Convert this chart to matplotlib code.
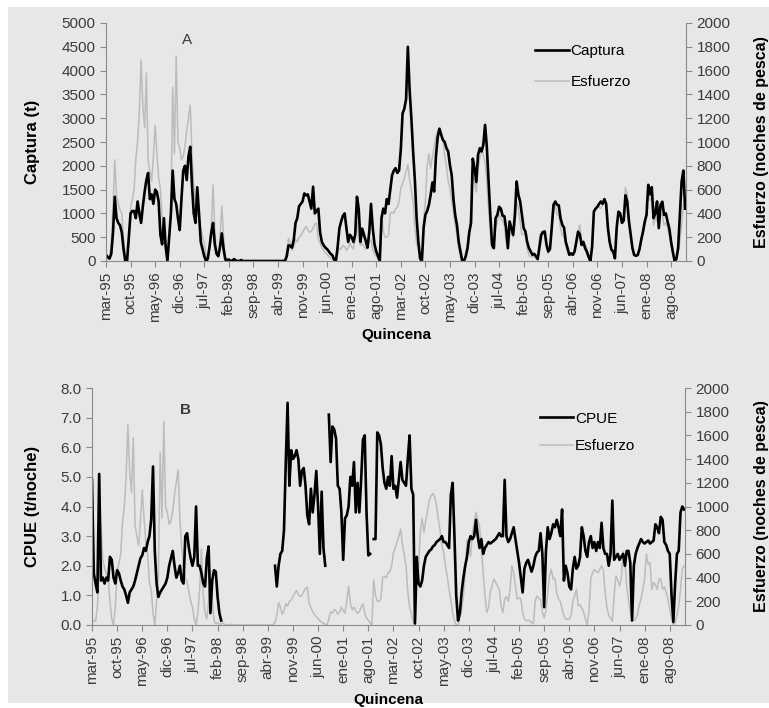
import numpy as np
import matplotlib.pyplot as plt
from matplotlib.patches import Rectangle

plt.rcParams['font.family'] = ['Liberation Sans', 'DejaVu Sans']

# etiquetas del eje x (una cada 14 quincenas)
meses = ['mar-95', 'oct-95', 'may-96', 'dic-96', 'jul-97', 'feb-98', 'sep-98',
         'abr-99', 'nov-99', 'jun-00', 'ene-01', 'ago-01', 'mar-02', 'oct-02',
         'may-03', 'dic-03', 'jul-04', 'feb-05', 'sep-05', 'abr-06', 'nov-06',
         'jun-07', 'ene-08', 'ago-08']

# Captura (t) por quincena
captura = [
    130, 80, 50, 150, 600, 1350, 900, 800, 750, 600, 250, 0, 0, 500,
    1000, 1050, 1050, 900, 1250, 1000, 800, 1150, 1450, 1700, 1850, 1300, 1400, 1200,
    1500, 1450, 1250, 550, 350, 900, 300, 0, 500, 1000, 1900, 1300, 1200, 900,
    650, 1300, 1900, 2000, 1700, 2200, 2400, 1600, 1000, 800, 1550, 1000, 400, 250,
    100, 0, 50, 300, 600, 800, 350, 150, 100, 300, 580, 250, 30, 20,
    30, 0, 10, 40, 10, 0, 0, 20, 0, 0, 0, 0, 0, 0,
    0, 0, 0, 0, 0, 0, 0, 0, 0, 0, 0, 0, 0, 0,
    0, 0, 0, 0, 0, 100, 330, 320, 280, 450, 800, 900, 1150, 1200,
    1250, 1420, 1380, 1400, 1250, 1100, 1560, 1000, 1050, 1100, 600, 400, 330, 280,
    250, 200, 150, 120, 30, 0, 300, 690, 830, 950, 1000, 690, 400, 550,
    500, 400, 550, 1350, 1100, 400, 680, 550, 420, 280, 600, 1200, 690, 350,
    200, 100, 0, 900, 1100, 1000, 1300, 1200, 1500, 1800, 1900, 1950, 1850, 1900,
    2350, 3100, 3200, 3400, 4500, 3600, 3000, 2300, 1700, 900, 400, 50, 0, 700,
    970, 1050, 1180, 1390, 1650, 1460, 2200, 2600, 2780, 2650, 2540, 2500, 2370, 2300,
    2010, 1800, 1300, 960, 750, 400, 200, 0, 0, 100, 270, 600, 800, 2150,
    1950, 1660, 2230, 2370, 2300, 2440, 2860, 2400, 1660, 960, 340, 270, 900, 970,
    1140, 1100, 950, 940, 690, 270, 830, 690, 550, 970, 1670, 1390, 1250, 970,
    690, 620, 400, 270, 200, 130, 150, 100, 40, 300, 546, 610, 620, 350,
    200, 250, 700, 1180, 1250, 1180, 1170, 900, 760, 700, 400, 270, 130, 160,
    130, 200, 400, 616, 560, 336, 400, 270, 196, 86, 0, 300, 1040, 1100,
    1140, 1200, 1250, 1200, 1300, 1200, 700, 400, 240, 200, 56, 700, 1036, 1000,
    800, 850, 1380, 1250, 826, 546, 266, 126, 110, 126, 250, 450, 616, 826,
    966, 1600, 1400, 1550, 900, 1000, 1250, 690, 1180, 1246, 966, 1000, 830, 680,
    406, 190, 0, 40, 266, 966, 1666, 1900, 1100,
]

# Esfuerzo (noches de pesca) por quincena
esfuerzo = [
    30, 40, 30, 150, 450, 850, 550, 480, 430, 400, 200, 50, 0, 150,
    450, 520, 600, 860, 1000, 1250, 1690, 1300, 1120, 1580, 840, 750, 670, 880,
    1140, 900, 700, 600, 360, 300, 100, 0, 200, 400, 1460, 900, 1720, 1000,
    950, 850, 880, 960, 1100, 1200, 1310, 890, 650, 500, 400, 360, 280, 200,
    150, 50, 0, 100, 300, 640, 250, 100, 50, 200, 460, 200, 40, 10,
    20, 5, 10, 15, 5, 0, 0, 5, 0, 0, 0, 0, 0, 0,
    0, 0, 0, 0, 0, 0, 0, 0, 0, 0, 0, 0, 0, 0,
    0, 0, 0, 5, 20, 80, 190, 150, 90, 120, 180, 160, 200, 210,
    240, 270, 290, 260, 240, 250, 280, 310, 320, 180, 150, 110, 90, 70,
    55, 35, 25, 15, 5, 0, 50, 110, 100, 130, 120, 90, 110, 150,
    120, 100, 200, 330, 180, 130, 150, 120, 100, 110, 150, 180, 100, 60,
    40, 20, 0, 380, 250, 200, 200, 220, 400, 410, 400, 440, 450, 500,
    610, 650, 700, 750, 810, 680, 600, 500, 280, 150, 100, 25, 0, 340,
    500, 800, 900, 780, 880, 960, 1050, 1090, 1110, 1080, 1010, 890, 800, 670,
    610, 500, 410, 300, 210, 100, 35, 0, 0, 60, 130, 240, 450, 720,
    670, 580, 780, 860, 950, 890, 830, 660, 440, 250, 106, 150, 280, 330,
    390, 360, 330, 300, 160, 106, 218, 240, 200, 300, 500, 440, 330, 220,
    230, 220, 106, 50, 36, 40, 36, 20, 10, 200, 246, 225, 218, 110,
    60, 120, 274, 414, 470, 390, 390, 274, 218, 200, 134, 80, 50, 50,
    50, 80, 200, 246, 302, 162, 170, 140, 110, 50, 0, 120, 390, 442,
    470, 450, 440, 470, 500, 460, 270, 150, 80, 60, 30, 250, 414, 380,
    330, 390, 620, 560, 330, 218, 106, 50, 40, 50, 90, 170, 218, 302,
    386, 600, 510, 526, 300, 360, 340, 300, 390, 386, 302, 320, 280, 218,
    130, 60, 0, 20, 78, 162, 300, 470, 500,
]

# CPUE (t/noche); None = sin esfuerzo
cpue = [
    4.9, 1.75, 1.4, 1.1, 5.1, 1.5, 1.6, 1.4, 1.6, 1.5, 2.3, 2.2, 1.6, 1.4,
    1.85, 1.75, 1.5, 1.3, 1.2, 1.0, 0.75, 1.1, 1.2, 1.3, 1.5, 1.75, 2.0, 2.25,
    2.35, 2.6, 2.5, 2.8, 3.0, 3.55, 5.35, 2.5, 1.4, 0.95, 1.1, 1.2, 1.3, 1.4,
    1.6, 2.0, 2.25, 2.5, 2.0, 1.6, 1.75, 2.0, 1.5, 1.4, 3.0, 3.1, 2.6, 2.25,
    2.0, 2.3, 4.0, 2.0, 2.0, 1.75, 1.4, 1.3, 2.25, 2.65, 0.4, 1.5, 1.85, 1.8,
    0.95, 0.4, 0.15, None, None, None, None, None, None, None, None, None, None, None,
    None, None, None, None, None, None, None, None, None, None, None, None, None, None,
    None, None, None, None, 2.0, 1.3, 2.0, 2.4, 2.5, 3.2, 5.5, 7.5, 4.7, 5.9,
    5.6, 5.7, 5.9, 5.6, 4.7, 5.2, 5.3, 4.7, 3.7, 3.4, 4.6, 3.8, 4.4, 5.2,
    4.0, 2.4, 4.5, 2.6, 2.0, None, 7.1, 5.5, 6.7, 6.6, 6.3, 4.7, 4.6, 3.8,
    2.2, 3.6, 3.7, 4.0, 5.0, 4.7, 5.5, 3.8, 4.8, 3.8, 4.9, 6.25, 6.4, 3.8,
    2.35, 2.4, None, 2.9, 2.9, 6.5, 6.4, 6.1, 5.3, 4.8, 4.6, 5.0, 4.7, 5.7,
    4.6, 4.7, 4.3, 4.9, 5.5, 4.9, 4.8, 4.7, 5.6, 6.4, 4.6, 4.4, 0.05, 2.3,
    1.4, 1.3, 1.5, 2.0, 2.3, 2.4, 2.5, 2.55, 2.65, 2.7, 2.8, 2.85, 2.9, 3.0,
    2.8, 2.8, 2.7, 2.6, 4.4, 4.8, 3.0, 1.0, 0.15, 0.4, 1.1, 1.6, 2.0, 2.3,
    2.8, 3.0, 2.9, 3.0, 3.55, 3.0, 2.6, 2.9, 2.4, 2.6, 2.7, 2.8, 2.75, 2.8,
    2.85, 2.9, 3.0, 3.1, 3.0, 3.0, 4.9, 3.0, 2.8, 2.9, 3.1, 3.3, 2.9, 2.5,
    2.1, 1.6, 1.1, 1.9, 2.1, 2.2, 2.0, 1.8, 2.0, 2.3, 2.45, 2.5, 3.1, 2.4,
    0.6, 2.5, 3.3, 2.9, 3.1, 3.4, 3.3, 3.55, 3.3, 3.0, 3.9, 1.5, 2.0, 1.75,
    1.3, 1.2, 1.9, 2.3, 1.9, 2.0, 2.3, 3.3, 3.0, 2.5, 2.3, 2.8, 3.0, 2.6,
    2.8, 2.5, 2.8, 2.6, 3.45, 2.6, 2.4, 2.4, 2.0, 2.4, 4.2, 2.2, 2.3, 2.4,
    2.2, 2.3, 2.4, 2.0, 2.5, 2.5, 2.1, 0.15, 2.0, 2.4, 2.6, 2.75, 2.9, 2.8,
    2.75, 2.8, 2.85, 2.75, 2.8, 2.85, 3.4, 3.3, 3.1, 3.65, 3.55, 2.8, 2.7, 2.5,
    2.4, 1.0, 0.1, 1.4, 2.4, 2.5, 3.8, 4.0, 3.9,
]

captura = np.array(captura, dtype=float)
esfuerzo = np.array(esfuerzo, dtype=float)
cpue = np.array(cpue, dtype=float)
x = np.arange(len(captura))
ticks_x = np.arange(0, len(captura), 14)

GRIS_EJE = '#8a8a8a'
GRIS_TXT = '#3c3c3c'
GRIS_LINEA = '#bcbcbc'

fig = plt.figure(figsize=(7.69, 7.08), dpi=100, facecolor='white')
fig.add_artist(Rectangle((8 / 769, 5 / 708), 1, 1 - 12 / 708, transform=fig.transFigure,
                         facecolor='#e7e7e7', edgecolor='none', zorder=-10))


def estilo(ax, ax2):
    for s in ['top', 'right']:
        ax.spines[s].set_visible(False)
    for s in ['top', 'left', 'bottom']:
        ax2.spines[s].set_visible(False)
    ax.spines['left'].set_color(GRIS_EJE)
    ax.spines['bottom'].set_color(GRIS_EJE)
    ax2.spines['right'].set_color(GRIS_EJE)
    ax.tick_params(axis='both', direction='out', length=4, color=GRIS_EJE,
                   labelcolor=GRIS_TXT, labelsize=11)
    ax2.tick_params(axis='y', direction='out', length=4, color=GRIS_EJE,
                    labelcolor=GRIS_TXT, labelsize=11)
    ax.set_xlim(0, 330.5)
    ax.set_xticks(ticks_x)
    ax.set_xticklabels(meses, rotation=90)
    ax.set_zorder(ax2.get_zorder() + 1)
    ax.patch.set_visible(False)
    ax2.patch.set_visible(False)


# Panel A
axA = fig.add_axes([106 / 769, 1 - 261 / 708, 580 / 769, 238 / 708])
axA2 = axA.twinx()
lE, = axA2.plot(x, esfuerzo, color=GRIS_LINEA, lw=1.1)
lC, = axA.plot(x, captura, color='black', lw=1.9)
estilo(axA, axA2)
axA.set_ylim(0, 5000)
axA.set_yticks(range(0, 5001, 500))
axA2.set_ylim(0, 2000)
axA2.set_yticks(range(0, 2001, 200))
axA.set_ylabel('Captura (t)', fontsize=12, fontweight='bold')
axA.yaxis.set_label_coords(-0.114, 0.5)
axA2.set_ylabel('Esfuerzo (noches de pesca)', fontsize=11.5, fontweight='bold')
axA2.yaxis.set_label_coords(1.117, 0.5)
axA.text(0.5, -0.31, 'Quincena', transform=axA.transAxes, ha='center', va='center',
         fontsize=11, fontweight='bold')
axA.text(0.14, 0.93, 'A', transform=axA.transAxes, ha='center', va='center',
         fontsize=11, color=GRIS_TXT)
axA.legend([lC, lE], ['Captura', 'Esfuerzo'], loc='upper left', bbox_to_anchor=(0.74, 0.91),
           frameon=False, handlelength=2.2, handletextpad=0.1, labelspacing=1.1,
           fontsize=11, borderpad=0, borderaxespad=0)

# Panel B
axB = fig.add_axes([92 / 769, 1 - 625 / 708, 593 / 769, 237 / 708])
axB2 = axB.twinx()
lE2, = axB2.plot(x, esfuerzo, color=GRIS_LINEA, lw=1.1)
lP, = axB.plot(x, cpue, color='black', lw=1.9)
estilo(axB, axB2)
axB.set_ylim(0, 8)
axB.set_yticks(np.arange(0, 8.01, 1.0))
axB.set_yticklabels([f'{v:.1f}' for v in np.arange(0, 8.01, 1.0)])
axB2.set_ylim(0, 2000)
axB2.set_yticks(range(0, 2001, 200))
axB.set_ylabel('CPUE (t/noche)', fontsize=12, fontweight='bold')
axB.yaxis.set_label_coords(-0.088, 0.5)
axB2.set_ylabel('Esfuerzo (noches de pesca)', fontsize=11.5, fontweight='bold')
axB2.yaxis.set_label_coords(1.116, 0.5)
axB.text(0.5, -0.316, 'Quincena', transform=axB.transAxes, ha='center', va='center',
         fontsize=11, fontweight='bold')
axB.text(0.158, 0.907, 'B', transform=axB.transAxes, ha='center', va='center',
         fontsize=11, fontweight='bold', color=GRIS_TXT)
axB.legend([lP, lE2], ['CPUE', 'Esfuerzo'], loc='upper left', bbox_to_anchor=(0.755, 0.9),
           frameon=False, handlelength=2.2, handletextpad=0.1, labelspacing=0.9,
           fontsize=11, borderpad=0, borderaxespad=0)

fig.savefig('out.png', dpi=100, facecolor=fig.get_facecolor())
